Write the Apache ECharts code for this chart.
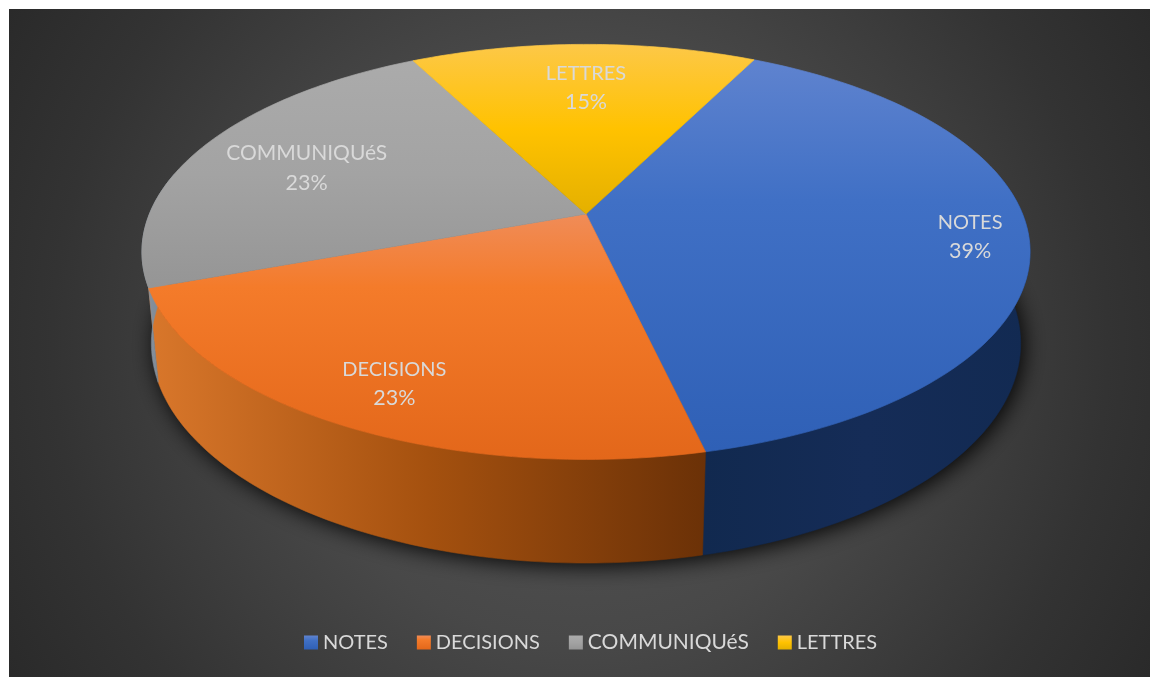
<!DOCTYPE html>
<html>
<head>
<meta charset="utf-8">
<style>html,body{margin:0;padding:0;background:#fff}#chart{width:1150px;height:677px}</style>
<script src="https://cdn.jsdelivr.net/npm/echarts@6/dist/echarts.min.js"></script>
</head>
<body>
<div id="chart"></div>
<script>
// Document types by share
const categories = ['NOTES', 'DECISIONS', 'COMMUNIQUéS', 'LETTRES'];
const values = [39, 23, 23, 15];

// Face shading per slice: top, middle and bottom of the lit face
const faceStops = [
  ['#5f83cf', '#4070c5', '#2f60b6'],
  ['#f08c58', '#f47b2a', '#e3671a'],
  ['#ababab', '#a3a3a3', '#959595'],
  ['#fdc848', '#ffc200', '#e4b000']
];
// Where the middle face colour sits within each slice's height
const faceMid = [0.36, 0.3, 0.5, 0.5];
// Rim shading per slice: left to right
const rimStops = [
  ['#11294f', '#152c57', '#122a52'],
  ['#d9772b', '#a5510f', '#6b3107'],
  ['#8a95a0', '#7d8894', '#707b87'],
  ['#a88400', '#a88400', '#a88400']
];
// Label placement per slice: share of the radius, and turn from the slice's mid-angle in degrees
const labelReach = [0.869, 0.826, 0.709, 0.712];
const labelTurn = [0.5, -1.0, -1.55, 0.4];
// The long name sets slightly larger, as it does in the legend
const nameSize = [20, 20, 21, 20];

const START_ANGLE = 26.6;
const total = values.reduce((a, b) => a + b, 0);

// Perspective model of the disc: hub position, semi-axes and foreshortening
const view = { x0: 586, y0: 214, c: 436.6, a: 200.6, b: 0.1827, sink: 0.021, drop: 92 };

function project(deg, r, lower) {
  const t = deg * Math.PI / 180;
  const X = r * Math.sin(t), Y = -r * Math.cos(t);
  const w = 1 - view.b * Y + (lower ? view.sink : 0);
  return [view.x0 + view.c * X / w, view.y0 + (view.a * Y + (lower ? view.drop : 0)) / w];
}

function arc(from, to, lower) {
  const pts = [];
  const n = Math.max(2, Math.ceil(Math.abs(to - from)));
  for (let i = 0; i <= n; i++) pts.push(project(from + (to - from) * i / n, 1, lower));
  return pts;
}

function vertical(stops, mid) {
  return new echarts.graphic.LinearGradient(0, 0, 0, 1, [
    { offset: 0, color: stops[0] }, { offset: mid, color: stops[1] }, { offset: 1, color: stops[2] }
  ]);
}
function horizontal(stops) {
  return new echarts.graphic.LinearGradient(0, 0, 1, 0, [
    { offset: 0, color: stops[0] }, { offset: 0.5, color: stops[1] }, { offset: 1, color: stops[2] }
  ]);
}

function sliceStart(index) {
  const before = values.slice(0, index).reduce((a, b) => a + b, 0);
  return START_ANGLE + before / total * 360;
}

function renderSlice(index, api) {
  const share = api.value(0) / total;
  const from = sliceStart(index);
  const to = from + share * 360;
  const children = [];

  // Rim: only the part facing the viewer
  const rimFrom = Math.max(from, 78), rimTo = Math.min(to, 282);
  if (rimTo > rimFrom) {
    const rimFill = horizontal(rimStops[index]);
    children.push({
      type: 'polygon', z2: 5,
      shape: { points: arc(rimFrom, rimTo, false).concat(arc(rimFrom, rimTo, true).reverse()) },
      style: { fill: rimFill, stroke: rimFill, lineWidth: 0.6 }
    });
  }
  // Top face
  const faceFill = api.visual('color');
  children.push({
    type: 'polygon', z2: 10,
    shape: { points: [project(0, 0, false)].concat(arc(from, to, false)) },
    style: { fill: faceFill, stroke: faceFill, lineWidth: 0.7 }
  });
  // Name and percentage
  const mid = project((from + to) / 2 + labelTurn[index], labelReach[index], false);
  children.push({
    type: 'text', z2: 20, x: mid[0], y: mid[1],
    style: {
      text: '{n|' + categories[index] + '}\n{p|' + Math.round(share * 100) + '%}',
      align: 'center', verticalAlign: 'middle',
      rich: {
        n: { fill: '#d9d9d9', fontFamily: 'Lato', fontSize: nameSize[index], lineHeight: 29, align: 'center' },
        p: { fill: '#d9d9d9', fontFamily: 'Lato', fontSize: 21.5, lineHeight: 29, align: 'center' }
      }
    }
  });
  return { type: 'group', children };
}

const chart = echarts.init(document.getElementById('chart'), null, { renderer: 'canvas' });

const sliceSeries = categories.map((name, i) => ({
  type: 'custom', name, coordinateSystem: 'none', silent: true, animation: false,
  itemStyle: { color: vertical(faceStops[i], faceMid[i]) },
  data: [[values[i]]],
  renderItem: (params, api) => renderSlice(i, api)
}));

// Soft shadow under the disc
const shadowSeries = {
  type: 'custom', name: 'shadow', coordinateSystem: 'none', silent: true, animation: false,
  data: [[1]],
  renderItem: () => ({
    type: 'polygon', z2: 1,
    shape: { points: arc(0, 360, true) },
    style: { fill: '#111', shadowBlur: 22, shadowColor: 'rgba(0,0,0,0.95)', shadowOffsetX: 3, shadowOffsetY: 3 }
  })
};

chart.setOption({
  animation: false,
  graphic: [{
    type: 'rect', z: -10, silent: true,
    shape: { x: 9, y: 9, width: 1141, height: 668 },
    style: {
      fill: new echarts.graphic.RadialGradient(580, 343, 660, [
        { offset: 0, color: '#575757' }, { offset: 0.45, color: '#484848' },
        { offset: 0.8, color: '#333333' }, { offset: 1, color: '#2a2a2a' }
      ], true)
    }
  }],
  legend: {
    data: categories.map(name => ({ name, icon: 'rect' })),
    left: 304, top: 632, padding: 0, orient: 'horizontal', selectedMode: false,
    itemWidth: 14, itemHeight: 14, itemGap: 29,
    formatter: name => '{' + (nameSize[categories.indexOf(name)] === 21 ? 'l' : 's') + '|' + name + '}',
    textStyle: {
      color: '#d9d9d9', fontFamily: 'Lato', fontSize: 20,
      rich: {
        s: { color: '#d9d9d9', fontFamily: 'Lato', fontSize: 20 },
        l: { color: '#d9d9d9', fontFamily: 'Lato', fontSize: 21 }
      }
    }
  },
  series: [shadowSeries].concat(sliceSeries)
});
</script>
</body>
</html>
